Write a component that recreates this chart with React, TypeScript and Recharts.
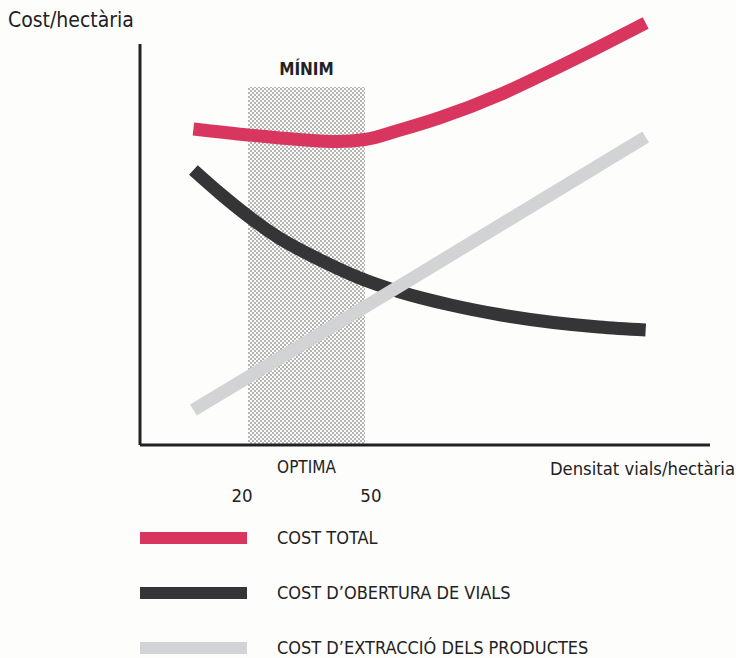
import { LineChart, Line, XAxis, YAxis, ReferenceArea, ReferenceLine } from 'recharts'

const FONT = "'Liberation Sans Narrow', 'DejaVu Sans Condensed', 'Roboto', sans-serif"
const INK = '#222224'

// density (vials/hectària) on x, relative cost on y
const X_MIN = -7.7
const X_MAX = 138.5
const Y_MAX = 430
const Y_AXIS_TOP = 401

const optimaRange = [20, 50]
const optimaTop = 358
const xTicks = [20, 50]

const totalX = [6, 20, 33, 43, 50, 59, 69, 85, 97, 110, 122]
const totalY = [316, 310, 305.5, 303.5, 305.5, 315, 327, 351, 373, 398, 422]

const roadX = [6, 13, 20, 28, 38, 48, 59, 72, 85, 110, 122]
const roadY = [275, 251, 229, 207, 186, 168, 153, 140, 130, 118, 115]

const extractX = [6, 64, 122]
const extractY = [35, 171, 308]

const seriesNames = ['COST TOTAL', "COST D\u2019OBERTURA DE VIALS", "COST D\u2019EXTRACCIÓ DELS PRODUCTES"]
const seriesColors = ['#d8365f', '#353538', '#d2d3d5']

function toPoints(xs: number[], ys: number[]) {
  return xs.map((x, i) => ({ x, y: ys[i] }))
}

const totalData = toPoints(totalX, totalY)
const roadData = toPoints(roadX, roadY)
const extractData = toPoints(extractX, extractY)

function DensityTick(props: any) {
  const { x, y, payload } = props
  const shift = payload.value === 20 ? -6 : 6
  return (
    <text x={x + shift} y={y + 49} textAnchor="middle" fontSize={18.5} fontFamily={FONT} fill={INK}>
      {payload.value}
    </text>
  )
}

export default function App() {
  return (
    <div style={{ position: 'absolute', left: 0, top: 0, width: 736, height: 658, background: '#fdfdfb', fontFamily: FONT, color: INK }}>
      <div style={{ position: 'absolute', left: 8, top: 7, fontSize: 21, lineHeight: '26px' }}>Cost/hectària</div>

      <LineChart width={736} height={658} margin={{ top: 15, right: 26, bottom: 183, left: 140 }}>
        <defs>
          <pattern id="dots" width={4} height={4} patternUnits="userSpaceOnUse">
            <rect width={4} height={4} fill="#fdfdfb" />
            <circle cx={1} cy={1} r={0.7} fill="#333" />
            <circle cx={3} cy={3} r={0.7} fill="#333" />
          </pattern>
        </defs>
        <XAxis
          dataKey="x"
          type="number"
          domain={[X_MIN, X_MAX]}
          ticks={xTicks}
          height={30}
          tickLine={false}
          axisLine={{ stroke: INK, strokeWidth: 3 }}
          tick={<DensityTick />}
          allowDataOverflow
          label={{ value: 'Densitat vials/hectària', position: 'insideBottomRight', offset: 0, dx: 25, fontSize: 18.3, fontFamily: FONT, fill: INK }}
        />
        <YAxis type="number" domain={[0, Y_MAX]} hide allowDataOverflow />
        <ReferenceArea
          x1={optimaRange[0]}
          x2={optimaRange[1]}
          y1={0}
          y2={optimaTop}
          fill="url(#dots)"
          fillOpacity={1}
          stroke="none"
        />
        <ReferenceArea
          x1={optimaRange[0]}
          x2={optimaRange[1]}
          y1={0}
          y2={optimaTop}
          fill="none"
          stroke="none"
          label={{ value: 'MÍNIM', position: 'top', offset: 12, fontSize: 17, fontWeight: 'bold', fontFamily: FONT, fill: INK }}
        />
        <ReferenceArea
          x1={optimaRange[0]}
          x2={optimaRange[1]}
          y1={0}
          y2={optimaTop}
          fill="none"
          stroke="none"
          label={{ value: 'OPTIMA', position: 'bottom', offset: 16, fontSize: 17, fontFamily: FONT, fill: INK }}
        />
        <ReferenceLine
          segment={[{ x: X_MIN, y: 0 }, { x: X_MIN, y: Y_AXIS_TOP }]}
          stroke={INK}
          strokeWidth={3}
        />
        <Line data={roadData} dataKey="y" type="monotone" stroke={seriesColors[1]} strokeWidth={13} dot={false} isAnimationActive={false} />
        <Line data={extractData} dataKey="y" type="linear" stroke={seriesColors[2]} strokeWidth={13} dot={false} isAnimationActive={false} />
        <Line data={totalData} dataKey="y" type="monotone" stroke={seriesColors[0]} strokeWidth={13} dot={false} isAnimationActive={false} />
      </LineChart>

      {seriesNames.map((name, i) => (
        <div key={name} style={{ position: 'absolute', left: 140, top: 529 + i * 55, height: 18, display: 'flex', alignItems: 'center' }}>
          <div style={{ width: 107, height: 12, background: seriesColors[i] }} />
          <div style={{ marginLeft: 30, fontSize: 18, lineHeight: '18px' }}>{name}</div>
        </div>
      ))}
    </div>
  )
}
